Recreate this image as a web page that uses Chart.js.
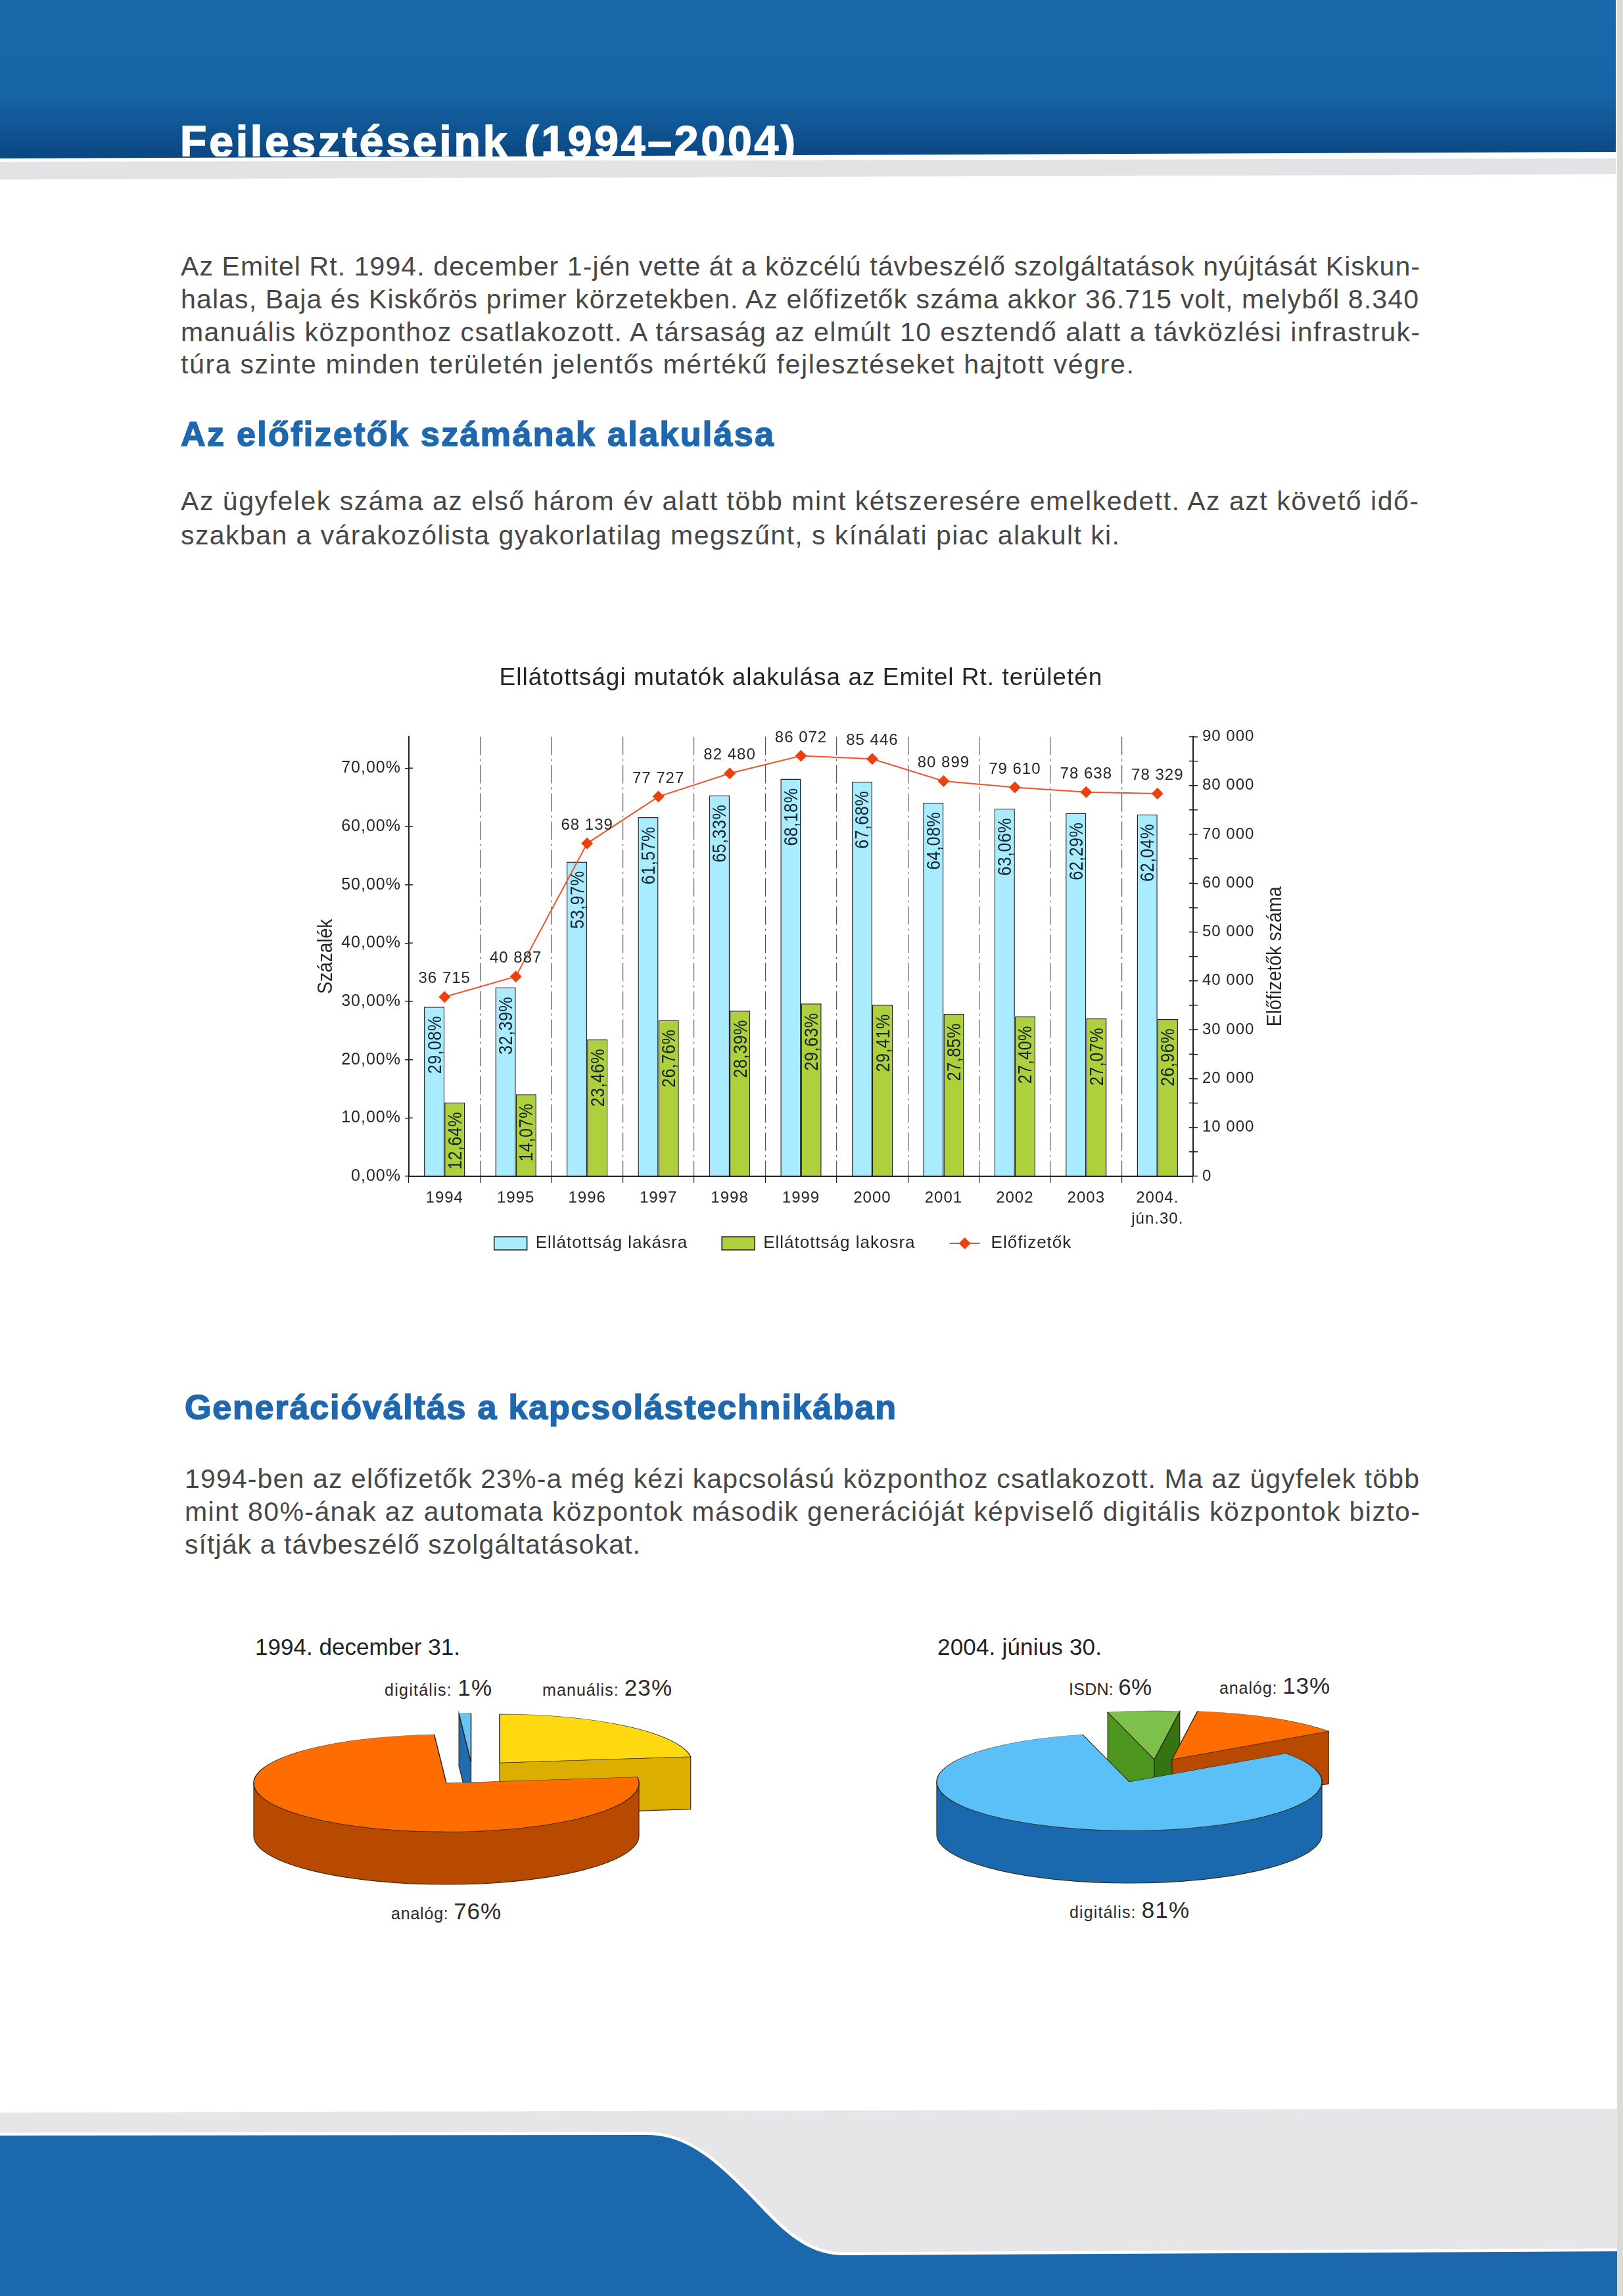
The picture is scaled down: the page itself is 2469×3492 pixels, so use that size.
<!DOCTYPE html>
<html>
<head>
<meta charset="utf-8">
<title>Fejlesztéseink (1994–2004)</title>
<script src="https://cdn.jsdelivr.net/npm/chart.js@4/dist/chart.umd.min.js"></script>
<style>
  html, body { margin: 0; padding: 0; background: #fff; }
  #page { position: relative; width: 2469px; height: 3492px; overflow: hidden; background: #fff; }
  #decor { position: absolute; left: 0; top: 0; }
  canvas { position: absolute; }
  #barChart { left: 420px; top: 990px; }
  #pieOld { left: 299px; top: 2552px; }
  #pieNew { left: 1338px; top: 2550px; }
  text { font-family: "Liberation Sans", Arial, sans-serif; }
</style>
</head>
<body>
<div id="page">
  <svg id="decor" width="2469" height="3492" xmlns="http://www.w3.org/2000/svg">
    <defs>
      <linearGradient id="headerBlue" x1="0" y1="0" x2="0" y2="1">
        <stop offset="0" stop-color="#1a68aa"/>
        <stop offset="0.6" stop-color="#1764a6"/>
        <stop offset="1" stop-color="#0a4781"/>
      </linearGradient>
      <clipPath id="headerClip"><rect x="0" y="0" width="2469" height="238"/></clipPath>
    </defs>
    <polygon points="0,0 2458,0 2458,231 0,241" fill="url(#headerBlue)"/>
    <polygon points="0,246 2458,241 2458,265 0,273" fill="#e3e3e5"/>
    <polygon points="0,3213 2469,3207 2469,3430 1283,3436 0,3436" fill="#e6e6e9"/>
    <path d="M0 3248 L984 3247 C1050 3247 1095 3295 1134 3333 C1173 3371 1215 3430 1283 3430 L2469 3424 V3492 H0 Z"
          fill="#1b69ac" stroke="#fff" stroke-width="9" paint-order="stroke"/>
    <rect x="2460" y="0" width="9" height="3492" fill="#dadad6"/>
    <g id="pageText"></g>
  </svg>
  <canvas id="barChart" width="1542" height="969"></canvas>
  <canvas id="pieOld" width="760" height="320"></canvas>
  <canvas id="pieNew" width="760" height="320"></canvas>
</div>

<script>
// Chart data
const years = ['1994', '1995', '1996', '1997', '1998', '1999', '2000', '2001', '2002', '2003', ['2004.', 'jún.30.']];
const perHousehold = [29.08, 32.39, 53.97, 61.57, 65.33, 68.18, 67.68, 64.08, 63.06, 62.29, 62.04];
const perResident = [12.64, 14.07, 23.46, 26.76, 28.39, 29.63, 29.41, 27.85, 27.40, 27.07, 26.96];
const subscribers = [36715, 40887, 68139, 77727, 82480, 86072, 85446, 80899, 79610, 78638, 78329];

const pieOldLabels = ['digitális', 'manuális', 'analóg'];
const pieOldValues = [1, 23, 76];
const pieNewLabels = ['ISDN', 'analóg', 'digitális'];
const pieNewValues = [6, 13, 81];

const leftAxisTitle = 'Százalék';
const rightAxisTitle = 'Előfizetők száma';

// Page text: [text, x, baseline, width, font size, colour, bold]
const bodyGrey = '#474747';
const headBlue = '#1f68ae';
const pageLines = [
  ['Az Emitel Rt. 1994. december 1-jén vette át a közcélú távbeszélő szolgáltatások nyújtását Kiskun-', 275, 419, 1885, 41, bodyGrey],
  ['halas, Baja és Kiskőrös primer körzetekben. Az előfizetők száma akkor 36.715 volt, melyből 8.340', 275, 469, 1883, 41, bodyGrey],
  ['manuális központhoz csatlakozott. A társaság az elmúlt 10 esztendő alatt a távközlési infrastruk-', 275, 519, 1885, 41, bodyGrey],
  ['túra szinte minden területén jelentős mértékű fejlesztéseket hajtott végre.', 275, 568, 1450, 41, bodyGrey],
  ['Az előfizetők számának alakulása', 275, 678, 902, 52, headBlue, true],
  ['Az ügyfelek száma az első három év alatt több mint kétszeresére emelkedett. Az azt követő idő-', 275, 776, 1883, 41, bodyGrey],
  ['szakban a várakozólista gyakorlatilag megszűnt, s kínálati piac alakult ki.', 275, 828, 1428, 41, bodyGrey],
  ['Generációváltás a kapcsolástechnikában', 281, 2158, 1082, 52, headBlue, true],
  ['1994-ben az előfizetők 23%-a még kézi kapcsolású központhoz csatlakozott. Ma az ügyfelek több', 281, 2263, 1878, 41, bodyGrey],
  ['mint 80%-ának az automata központok második generációját képviselő digitális központok bizto-', 281, 2313, 1879, 41, bodyGrey],
  ['sítják a távbeszélő szolgáltatásokat.', 281, 2363, 693, 41, bodyGrey],
  ['1994. december 31.', 388, 2517, 312, 35, '#222'],
  ['2004. június 30.', 1426, 2517, 250, 35, '#222']
];

// Pie captions: [label, value, x, baseline, width]
const pieCaptions = [
  [pieOldLabels[0], pieOldValues[0], 585, 2579, 163],
  [pieOldLabels[1], pieOldValues[1], 825, 2579, 197],
  [pieOldLabels[2], pieOldValues[2], 595, 2919, 167],
  [pieNewLabels[0], pieNewValues[0], 1626, 2578, 126],
  [pieNewLabels[1], pieNewValues[1], 1855, 2576, 168],
  [pieNewLabels[2], pieNewValues[2], 1627, 2917, 182]
];

const svgNS = 'http://www.w3.org/2000/svg';
const textGroup = document.getElementById('pageText');

function addText(x, y, width, size, fill, bold) {
  const t = document.createElementNS(svgNS, 'text');
  t.setAttribute('x', x);
  t.setAttribute('y', y);
  t.setAttribute('textLength', width);
  t.setAttribute('lengthAdjust', 'spacing');
  t.setAttribute('font-size', size);
  t.setAttribute('fill', fill);
  if (bold) {
    t.setAttribute('font-weight', 'bold');
    t.setAttribute('stroke', fill);
    t.setAttribute('stroke-width', 1.6);
  }
  textGroup.appendChild(t);
  return t;
}

pageLines.forEach(l => {
  addText(l[1], l[2], l[3], l[4], l[5], l[6]).textContent = l[0];
});

// Page heading is cut off by the edge of the blue band
const heading = addText(274, 238, 936, 66, '#fff', true);
heading.textContent = 'Fejlesztéseink (1994–2004)';
heading.setAttribute('clip-path', 'url(#headerClip)');

pieCaptions.forEach(c => {
  const t = addText(c[2], c[3], c[4], 25, '#2a2a2a');
  const small = document.createElementNS(svgNS, 'tspan');
  small.textContent = c[0] + ': ';
  const big = document.createElementNS(svgNS, 'tspan');
  big.setAttribute('font-size', 35);
  big.textContent = c[1] + '%';
  t.appendChild(small);
  t.appendChild(big);
});

Chart.defaults.font.family = '"Liberation Sans", Arial, sans-serif';
Chart.defaults.color = '#262626';
Chart.defaults.animation = false;

const inkColor = '#1f2225';
const lineRed = '#f0522a';
const pointRed = '#ee3f0e';
const chartFont = '"Liberation Sans", Arial, sans-serif';

const huPercent = v => v.toFixed(2).replace('.', ',') + '%';
const huThousands = v => String(v).replace(/\B(?=(\d{3})+$)/g, ' ');

// Writes text turned a quarter to the left, squeezed along its length
function drawTurned(ctx, text, x, y, squeeze) {
  ctx.save();
  ctx.translate(x, y);
  ctx.rotate(-Math.PI / 2);
  ctx.scale(squeeze, 1);
  ctx.fillText(text, 0, 0);
  ctx.restore();
}

// Value labels, crossing axis ticks, axis titles and the line entry of the legend
const barExtras = {
  id: 'barExtras',
  beforeLayout(chart) {
    chart.ctx.letterSpacing = '1px';
  },
  afterLayout(chart) {
    // legend sits closer to the axis than its item gap would allow
    const legend = chart.legend;
    legend.top -= 45;
    legend.bottom -= 45;
  },
  beforeDraw(chart) {
    chart.ctx.letterSpacing = '1px';
  },
  afterDraw(chart) {
    const ctx = chart.ctx;
    ctx.save();

    // inner half of the ticks on both value axes
    ctx.strokeStyle = inkColor;
    ctx.lineWidth = 1.5;
    const left = chart.scales.y;
    const right = chart.scales.y1;
    ctx.beginPath();
    left.ticks.forEach(t => {
      const y = left.getPixelForValue(t.value);
      ctx.moveTo(left.right, y);
      ctx.lineTo(left.right + 6, y);
    });
    right.ticks.forEach(t => {
      const y = right.getPixelForValue(t.value);
      ctx.moveTo(right.left, y);
      ctx.lineTo(right.left - 6, y);
    });
    ctx.stroke();

    // axis titles, both read upwards
    ctx.letterSpacing = '0px';
    ctx.font = '32px ' + chartFont;
    ctx.fillStyle = '#262626';
    ctx.textAlign = 'center';
    ctx.textBaseline = 'middle';
    const midY = (chart.chartArea.top + chart.chartArea.bottom) / 2;
    drawTurned(ctx, leftAxisTitle, left.left + 76, midY, 0.88);
    drawTurned(ctx, rightAxisTitle, right.right - 22, midY, 0.88);

    // rotated percentages inside the bars
    ctx.letterSpacing = '0.5px';
    ctx.font = '29px ' + chartFont;
    ctx.fillStyle = '#14242c';
    ctx.textAlign = 'right';
    [0, 1].forEach(i => {
      const values = chart.data.datasets[i].data;
      chart.getDatasetMeta(i).data.forEach((bar, j) => {
        drawTurned(ctx, huPercent(values[j]), bar.x + 2, bar.y + 14, 0.87);
      });
    });

    // subscriber counts above the line
    ctx.letterSpacing = '1px';
    ctx.font = '24px ' + chartFont;
    ctx.fillStyle = '#262626';
    ctx.textAlign = 'center';
    ctx.textBaseline = 'alphabetic';
    chart.getDatasetMeta(2).data.forEach((pt, j) => {
      ctx.fillText(huThousands(chart.data.datasets[2].data[j]), pt.x, pt.y - 21);
    });

    // line and diamond of the legend
    const box = chart.legend.legendHitBoxes[2];
    const cy = box.top + box.height / 2;
    ctx.strokeStyle = lineRed;
    ctx.lineWidth = 2;
    ctx.beginPath();
    ctx.moveTo(box.left, cy);
    ctx.lineTo(box.left + 46, cy);
    ctx.stroke();
    ctx.fillStyle = pointRed;
    Chart.helpers.drawPoint(ctx, { pointStyle: 'rectRot', radius: 9, borderWidth: 0, rotation: 0 }, box.left + 23, cy);
    ctx.restore();
  }
};

new Chart(document.getElementById('barChart'), {
  type: 'bar',
  plugins: [barExtras],
  data: {
    labels: years,
    datasets: [
      {
        label: 'Ellátottság lakásra',
        data: perHousehold,
        backgroundColor: '#a9ebff',
        borderColor: inkColor,
        borderWidth: 1.5,
        yAxisID: 'y',
        order: 1
      },
      {
        label: 'Ellátottság lakosra',
        data: perResident,
        backgroundColor: '#add03c',
        borderColor: inkColor,
        borderWidth: 1.5,
        yAxisID: 'y',
        order: 1
      },
      {
        type: 'line',
        label: 'Előfizetők',
        data: subscribers,
        borderColor: lineRed,
        borderWidth: 2,
        backgroundColor: pointRed,
        pointStyle: 'rectRot',
        pointRadius: 9,
        pointBorderWidth: 0,
        tension: 0,
        yAxisID: 'y1',
        order: 0
      }
    ]
  },
  options: {
    responsive: false,
    maintainAspectRatio: false,
    events: [],
    layout: { padding: 0 },
    datasets: { bar: { barPercentage: 1, categoryPercentage: 0.575 } },
    scales: {
      x: {
        offset: true,
        grid: {
          color: '#55585b',
          lineWidth: 1.2,
          tickLength: 10,
          tickColor: inkColor,
          tickBorderDash: []
        },
        border: { color: inkColor, width: 2, dash: [28, 6, 3, 6] },
        ticks: {
          autoSkip: false,
          maxRotation: 0,
          padding: 7,
          font: { size: 24, lineHeight: 1.33 }
        },
        afterFit(scale) { scale.height = 82; }
      },
      y: {
        position: 'left',
        min: 0,
        max: 75.4,
        grid: { drawOnChartArea: false, tickLength: 6, tickColor: inkColor, lineWidth: 1.5 },
        border: { color: inkColor, width: 2 },
        ticks: {
          stepSize: 10,
          includeBounds: false,
          padding: 6,
          font: { size: 25 },
          callback: v => huPercent(v)
        },
        afterFit(scale) { scale.width = 202; }
      },
      y1: {
        position: 'right',
        min: 0,
        max: 90000,
        grid: { drawOnChartArea: false, tickLength: 7, tickColor: inkColor, lineWidth: 1.5 },
        border: { color: inkColor, width: 2 },
        ticks: {
          stepSize: 5000,
          autoSkip: false,
          padding: 7,
          font: { size: 24 },
          callback: v => (v % 10000 === 0 ? huThousands(v) : '')
        },
        afterFit(scale) { scale.width = 147; }
      }
    },
    plugins: {
      tooltip: { enabled: false },
      title: {
        display: true,
        text: 'Ellátottsági mutatók alakulása az Emitel Rt. területén',
        fullSize: false,
        color: '#262626',
        font: { size: 37, weight: 'normal' },
        padding: { top: 20, bottom: 66 }
      },
      legend: {
        position: 'bottom',
        labels: {
          boxWidth: 50,
          boxHeight: 20,
          padding: 52,
          color: '#262626',
          font: { size: 26 },
          sort: (a, b) => a.datasetIndex - b.datasetIndex,
          generateLabels(chart) {
            const items = Chart.defaults.plugins.legend.labels.generateLabels(chart);
            items.forEach(item => {
              if (item.datasetIndex === 2) {
                item.fillStyle = 'rgba(0,0,0,0)';
                item.lineWidth = 0;
              }
            });
            return items;
          }
        }
      }
    }
  }
});

// Squashes a flat pie into a slab: walls first, then the library's own slices
const slabPie = {
  id: 'slabPie',
  beforeDatasetsDraw(chart, args, opts) {
    const ctx = chart.ctx;
    const cx = (chart.chartArea.left + chart.chartArea.right) / 2;
    const cy = (chart.chartArea.top + chart.chartArea.bottom) / 2;
    const k = opts.tilt;
    const depth = opts.depth;

    chart.getDatasetMeta(0).data.forEach((arc, i) => {
      arc.x = cx + opts.shiftX[i];
      arc.y = cy + opts.shiftY[i] / k;
      const sx = arc.x;
      const sy = cy + opts.shiftY[i];
      const r = arc.outerRadius;
      const a0 = arc.startAngle;
      const a1 = arc.endAngle;

      ctx.save();
      ctx.lineWidth = 1.2;
      ctx.strokeStyle = '#3a2a10';
      const cutFace = (a, color) => {
        const px = sx + r * Math.cos(a);
        const py = sy + k * r * Math.sin(a);
        ctx.beginPath();
        ctx.moveTo(sx, sy);
        ctx.lineTo(px, py);
        ctx.lineTo(px, py + depth);
        ctx.lineTo(sx, sy + depth);
        ctx.closePath();
        ctx.fillStyle = color;
        ctx.fill();
        ctx.stroke();
      };
      if (Math.cos(a0) < 0) cutFace(a0, opts.startWalls[i]);
      if (Math.cos(a1) > 0) cutFace(a1, opts.endWalls[i]);

      // outer wall only where the rim faces the viewer
      const from = Math.max(a0, 0);
      const to = Math.min(a1, Math.PI);
      if (to > from) {
        ctx.beginPath();
        ctx.ellipse(sx, sy, r, k * r, 0, from, to);
        ctx.ellipse(sx, sy + depth, r, k * r, 0, to, from, true);
        ctx.closePath();
        ctx.fillStyle = opts.endWalls[i];
        ctx.fill();
        ctx.stroke();
      }
      ctx.restore();
    });

    ctx.save();
    ctx.translate(0, cy);
    ctx.scale(1, k);
    ctx.translate(0, -cy);
  },
  afterDatasetsDraw(chart) {
    chart.ctx.restore();
  }
};

function makePie(id, labels, values, rotation, faces, slab) {
  return new Chart(document.getElementById(id), {
    type: 'pie',
    plugins: [slabPie],
    data: {
      labels: labels,
      datasets: [{
        data: values,
        backgroundColor: faces,
        borderColor: '#2c2418',
        borderWidth: 1.5,
        radius: 293
      }]
    },
    options: {
      responsive: false,
      maintainAspectRatio: false,
      events: [],
      rotation: rotation,
      plugins: {
        legend: { display: false },
        tooltip: { enabled: false },
        slabPie: slab
      }
    }
  });
}

makePie('pieOld', pieOldLabels, pieOldValues, -3.6,
  ['#66c4f7', '#ffd90f', '#ff6d00'],
  {
    tilt: 0.2526,
    depth: 80,
    shiftX: [37.5, 81, 0],
    shiftY: [-32, -31, 0],
    startWalls: ['#1f6cb0', '#dcae00', '#b84a00'],
    endWalls: ['#1f6cb0', '#dcae00', '#b84a00']
  });

makePie('pieNew', pieNewLabels, pieNewValues, -14,
  ['#7dc04b', '#ff6d00', '#5cc0f8'],
  {
    tilt: 0.2526,
    depth: 80,
    shiftX: [38, 65, 0],
    shiftY: [-34, -34, 0],
    startWalls: ['#4c961e', '#b84a00', '#1a69ae'],
    endWalls: ['#357412', '#b84a00', '#1a69ae']
  });
</script>
</body>
</html>
